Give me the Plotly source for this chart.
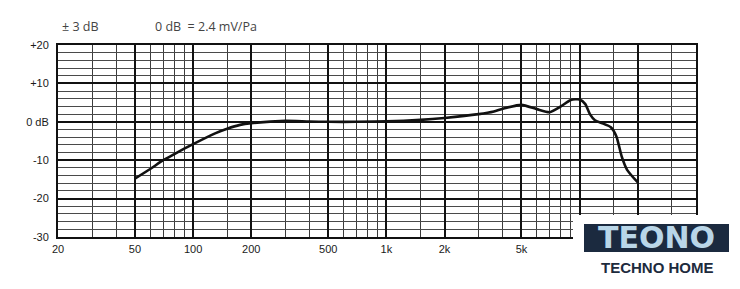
import plotly.graph_objects as go

# ---- data ----
freq_hz = [50, 60, 70, 80, 90, 100, 130, 150, 175, 200, 300, 400, 500, 700, 1000,
           1500, 2000, 3000, 3600, 4000, 5000, 6000, 7000, 8000, 9000, 10000,
           10700, 11300, 12000, 13000, 14500, 15500, 16500, 17600, 20000]
response_db = [-14.8, -12.3, -10.0, -8.4, -7.0, -5.8, -3.0, -1.8, -0.8, -0.35, 0.25, 0.05, 0.0, 0.0, 0.1,
               0.5, 1.0, 2.0, 2.7, 3.4, 4.4, 3.3, 2.5, 4.0, 5.7, 5.8,
               4.6, 2.0, 0.4, -0.3, -1.4, -3.8, -9.0, -12.5, -15.8]

x_major_vals = [20, 50, 100, 200, 500, 1000, 2000, 5000, 10000, 20000]
x_major_text = ["20", "50", "100", "200", "500", "1k", "2k", "5k", "", ""]
x_minor_vals = [30, 40, 60, 70, 80, 90, 150, 300, 400, 600, 700, 800, 900, 1500,
                3000, 4000, 6000, 7000, 8000, 9000, 15000, 30000]
y_major_vals = [-30, -20, -10, 0, 10, 20]
y_major_text = ["-30", "-20", "-10", "0 dB", "+10", "+20"]

W, H = 740, 289
L, R, T, B = 58, 44, 45, 52
pw, ph = W - L - R, H - T - B

def px(x):
    return (x - L) / pw

def py(y):
    return (H - B - y) / ph

fig = go.Figure()
fig.add_trace(go.Scatter(
    x=freq_hz, y=response_db, mode="lines",
    line=dict(color="#111111", width=2.6, shape="spline", smoothing=0.6),
    hoverinfo="skip", showlegend=False,
))

tickfont = dict(family="Liberation Sans, Arial, sans-serif", size=11, color="#1a1a1a")

fig.update_xaxes(
    type="log", range=[1.30103, 4.60206],
    tickvals=x_major_vals, ticktext=x_major_text, tickfont=tickfont,
    showgrid=True, gridcolor="#111111", gridwidth=1.8,
    minor=dict(tickvals=x_minor_vals, showgrid=True, gridcolor="#3c3c3c", gridwidth=1.2, ticks=""),
    ticks="", ticklabelstandoff=1,
    showline=True, linecolor="#111111", linewidth=2, mirror=True, zeroline=False,
)
fig.update_yaxes(
    range=[-30, 20],
    tickvals=y_major_vals, ticktext=y_major_text, tickfont=tickfont,
    showgrid=True, gridcolor="#111111", gridwidth=1.8,
    minor=dict(dtick=2, showgrid=True, gridcolor="#4a4a4a", gridwidth=1, ticks=""),
    ticks="", ticklabelstandoff=5,
    showline=True, linecolor="#111111", linewidth=2, mirror=True, zeroline=False,
)

shapes = [
    # white patch under logo
    dict(type="rect", xref="paper", yref="paper", x0=px(573), x1=px(745), y0=py(215), y1=py(295),
         fillcolor="white", line=dict(width=0), layer="above"),
    # navy banner of logo
    dict(type="rect", xref="paper", yref="paper", x0=px(584), x1=px(729), y0=py(224), y1=py(252),
         fillcolor="#1b2a3f", line=dict(width=0), layer="above"),
]

annotations = [
    dict(text="± 3 dB", x=px(60), y=py(26), xref="paper", yref="paper", xanchor="left", yanchor="middle",
         showarrow=False, font=dict(family="Open Sans, sans-serif", size=12.5, color="#444444")),
    dict(text="0 dB  = 2.4 mV/Pa", x=px(153), y=py(26), xref="paper", yref="paper", xanchor="left",
         yanchor="middle", showarrow=False,
         font=dict(family="Open Sans, sans-serif", size=12.5, color="#444444")),
    dict(text="<b>TEONO</b>", x=px(656), y=py(237), xref="paper", yref="paper", xanchor="center",
         yanchor="middle", showarrow=False,
         font=dict(family="DejaVu Sans, sans-serif", size=30, color="#b9d6e8")),
    dict(text="<b>TECHNO HOME</b>", x=px(657), y=py(267), xref="paper", yref="paper", xanchor="center",
         yanchor="middle", showarrow=False,
         font=dict(family="Liberation Sans, Arial, sans-serif", size=15, color="#1d2b3d")),
]

fig.update_layout(
    width=W, height=H, margin=dict(l=L, r=R, t=T, b=B),
    paper_bgcolor="white", plot_bgcolor="white",
    shapes=shapes, annotations=annotations, showlegend=False,
)

fig.write_html("out.html")
